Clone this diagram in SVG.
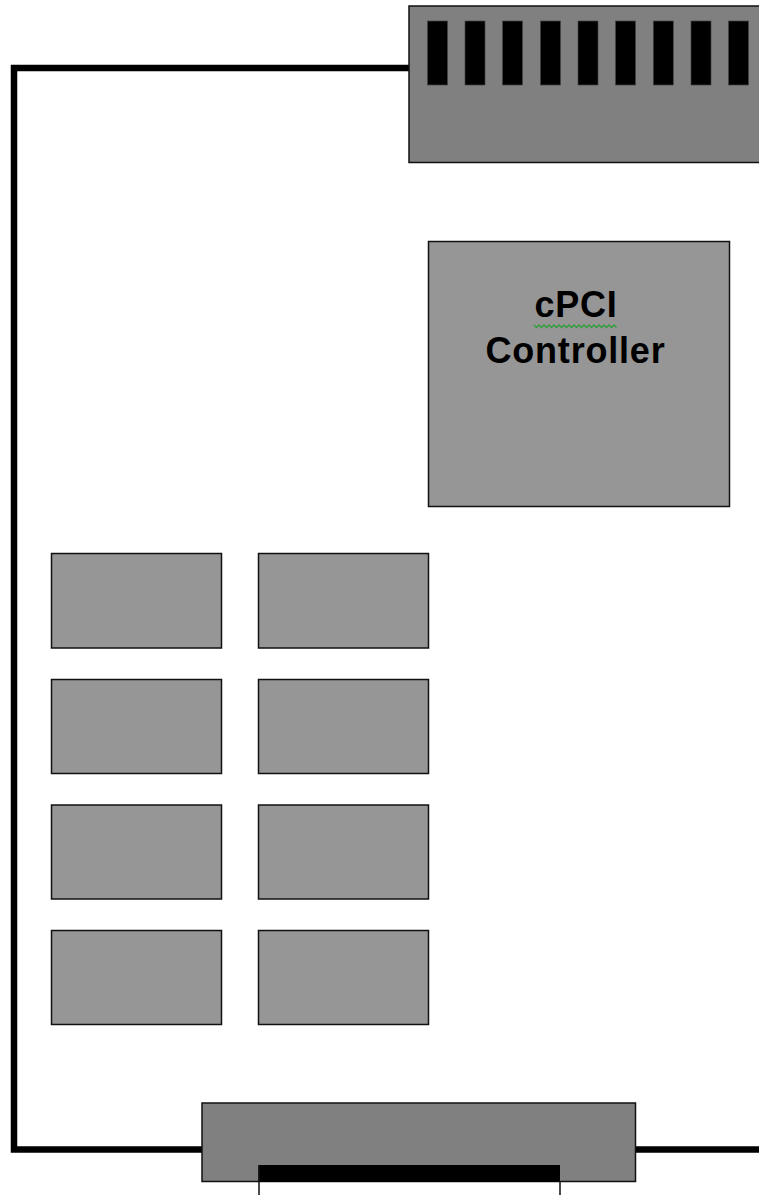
<svg xmlns="http://www.w3.org/2000/svg" width="759" height="1195" viewBox="0 0 759 1195">
<style>
.board{fill:none;stroke:#000;stroke-width:6.500}
.conn{fill:#808080;stroke:#111;stroke-width:1.500}
.chip{fill:#969696;stroke:#111;stroke-width:1.500}
.slot{fill:#000;stroke:#444;stroke-width:.7}
.pin{fill:none;stroke:#111;stroke-width:1.500}
.label{font-family:"Liberation Sans",Arial,sans-serif;font-weight:bold;font-size:36px;letter-spacing:.8px;fill:#000;text-anchor:middle}
</style>
<rect width="759" height="1195" fill="#fff"/>
<g id="connectors">
<path class="board" d="M409 68H14V1149.500H202"/>
<path class="board" d="M635.500 1149.500H759"/>
</g>
<g id="top-connector">
<rect class="conn" x="409" y="6" width="352" height="156.500"/>
<g id="top-slots">
<rect class="slot" x="427.500" y="21" width="20" height="64"/>
<rect class="slot" x="465" y="21" width="20" height="64"/>
<rect class="slot" x="502.500" y="21" width="20" height="64"/>
<rect class="slot" x="540.500" y="21" width="20" height="64"/>
<rect class="slot" x="578" y="21" width="20" height="64"/>
<rect class="slot" x="615.500" y="21" width="20" height="64"/>
<rect class="slot" x="653.300" y="21" width="20" height="64"/>
<rect class="slot" x="691" y="21" width="20" height="64"/>
<rect class="slot" x="728.500" y="21" width="20" height="64"/>
</g>
</g>
<g id="controller">
<rect class="chip" x="428.500" y="241.500" width="301" height="265"/>
<text class="label" x="576" y="317">cPCI</text>
<path d="M534 325l2.500 2.500 2.500-2.500 2.500 2.500 2.500-2.500 2.500 2.500 2.500-2.500 2.500 2.500 2.500-2.500 2.500 2.500 2.500-2.500 2.500 2.500 2.500-2.500 2.500 2.500 2.500-2.500 2.500 2.500 2.500-2.500 2.500 2.500 2.500-2.500 2.500 2.500 2.500-2.500 2.500 2.500 2.500-2.500 2.500 2.500 2.500-2.500 2.500 2.500 2.500-2.500 2.500 2.500 2.500-2.500 2.500 2.500 2.500-2.500 2.500 2.500 2.500-2.500 2.500 2.500" fill="none" stroke="#2e9e3a" stroke-width="1.300"/>
<text class="label" x="575.500" y="363">Controller</text>
</g>
<g id="chip-1-1"><rect class="chip" x="51.500" y="553.500" width="170" height="94.500"/></g>
<g id="chip-1-2"><rect class="chip" x="258.500" y="553.500" width="170" height="94.500"/></g>
<g id="chip-2-1"><rect class="chip" x="51.500" y="679.500" width="170" height="94"/></g>
<g id="chip-2-2"><rect class="chip" x="258.500" y="679.500" width="170" height="94"/></g>
<g id="chip-3-1"><rect class="chip" x="51.500" y="805" width="170" height="94"/></g>
<g id="chip-3-2"><rect class="chip" x="258.500" y="805" width="170" height="94"/></g>
<g id="chip-4-1"><rect class="chip" x="51.500" y="930.500" width="170" height="94"/></g>
<g id="chip-4-2"><rect class="chip" x="258.500" y="930.500" width="170" height="94"/></g>
<g id="bottom-connector">
<rect class="conn" x="202" y="1103" width="433.500" height="78.500"/>
<rect x="258.500" y="1165" width="301.500" height="17" fill="#000"/>
<path class="pin" d="M259 1165V1195M560 1181V1195"/>
</g>
</svg>
